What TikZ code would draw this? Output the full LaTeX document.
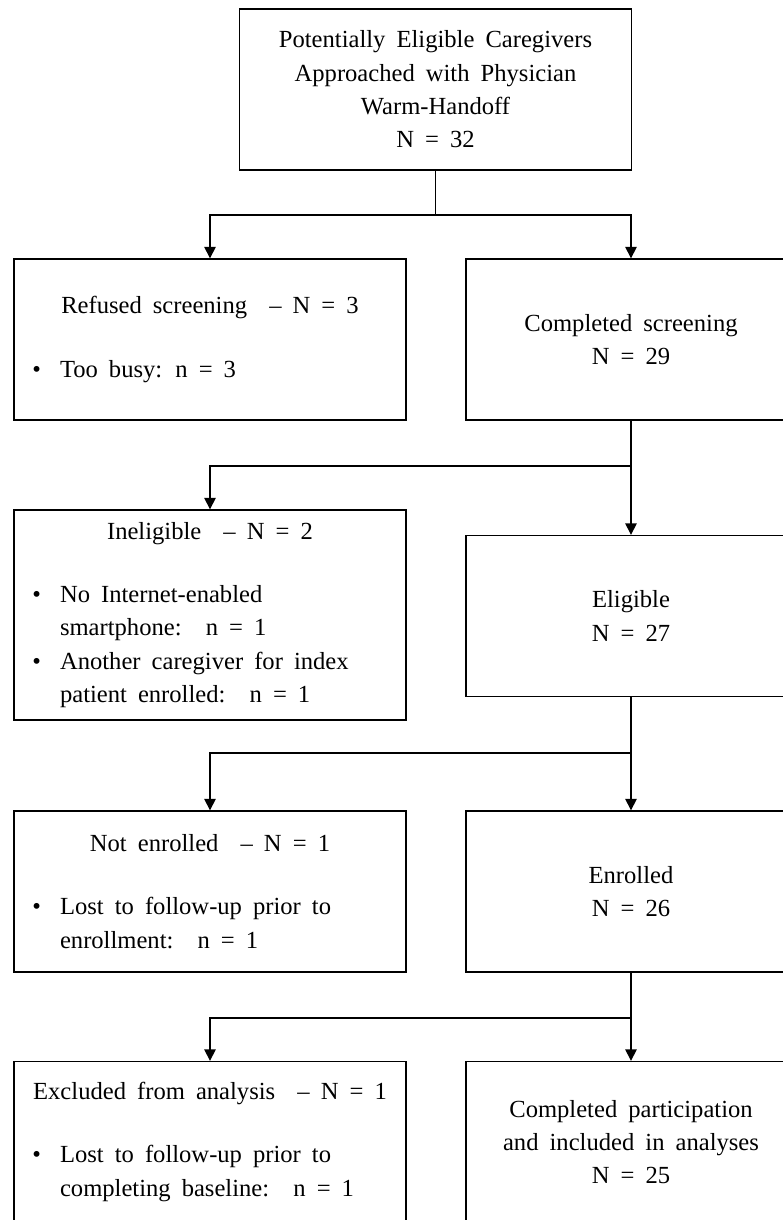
\documentclass[tikz,border=0pt]{standalone}
\usepackage{fontspec}
\setmainfont{Liberation Serif}
\usepackage{tikz}
\usetikzlibrary{arrows.meta}

% title line, then the bullet lines of an exclusion box
\newcommand{\outbox}[2]{\begin{minipage}{7.84cm}\centering #1\par\vspace{17pt}\raggedright\leftskip=0.92cm\parindent=0pt #2\end{minipage}}
\newcommand{\bul}{\noindent\llap{\textbullet\hspace{0.38cm}}}
\newcommand{\boxfont}{\fontsize{14}{19}\selectfont\spaceskip=0.45em plus 0.1em minus 0.05em\relax}

\begin{document}
\begin{tikzpicture}[x=0.02cm, y=-0.02cm, >={Triangle[length=0.23cm,width=0.23cm]},
    box/.style={draw, line width=0.8pt, inner sep=0pt, minimum height=3.22cm, align=center, font=\boxfont},
    wide/.style={box, minimum width=7.84cm},
    narrow/.style={box, minimum width=6.6cm},
    link/.style={line width=0.8pt}]

    \useasboundingbox[fill=white] (0, 0) rectangle (783, 1220);
    \clip (0, 0) rectangle (783, 1220);

    \node[wide]   (top)      at (435.5, 89.5)  {Potentially Eligible Caregivers\\ Approached with Physician\\ Warm-Handoff\\ N = 32};

    \node[wide]   (refused)  at (210, 339.5)   {\outbox{Refused screening \ -- N = 3}{\bul Too busy: n = 3\par}};
    \node[narrow] (screened) at (631, 339.5)   {Completed screening\\ N = 29};

    \node[wide, minimum height=4.2cm] (inelig) at (210, 615) {\outbox{Ineligible \ -- N = 2}{\bul No Internet-enabled\\ smartphone: \ n = 1\par
        \bul Another caregiver for index\\ patient enrolled: \ n = 1\par}};
    \node[narrow] (elig)     at (631, 616)     {Eligible\\ N = 27};

    \node[wide]   (notenr)   at (210, 891.5)   {\outbox{Not enrolled \ -- N = 1}{\bul Lost to follow-up prior to\\ enrollment: \ n = 1\par}};
    \node[narrow] (enrolled) at (631, 891.5)   {Enrolled\\ N = 26};

    \node[wide]   (excluded) at (210, 1142)    {\outbox{Excluded from analysis \ -- N = 1}{\bul Lost to follow-up prior to\\ completing baseline: \ n = 1\par}};
    \node[narrow] (done)     at (631, 1142)    {Completed participation\\ and included in analyses\\ N = 25};

    \coordinate (j1) at (435.5, 215);
    \coordinate (j2) at (631, 466);
    \coordinate (j3) at (631, 753);
    \coordinate (j4) at (631, 1018);

    \draw[link]     (top) -- (j1);
    \draw[link, ->] (j1) -| (refused);
    \draw[link, ->] (j1) -| (screened);

    \draw[link]     (screened) -- (j2);
    \draw[link, ->] (j2) -| (inelig);
    \draw[link, ->] (j2) -- (elig);

    \draw[link]     (elig) -- (j3);
    \draw[link, ->] (j3) -| (notenr);
    \draw[link, ->] (j3) -- (enrolled);

    \draw[link]     (enrolled) -- (j4);
    \draw[link, ->] (j4) -| (excluded);
    \draw[link, ->] (j4) -- (done);
  \end{tikzpicture}
\end{document}
